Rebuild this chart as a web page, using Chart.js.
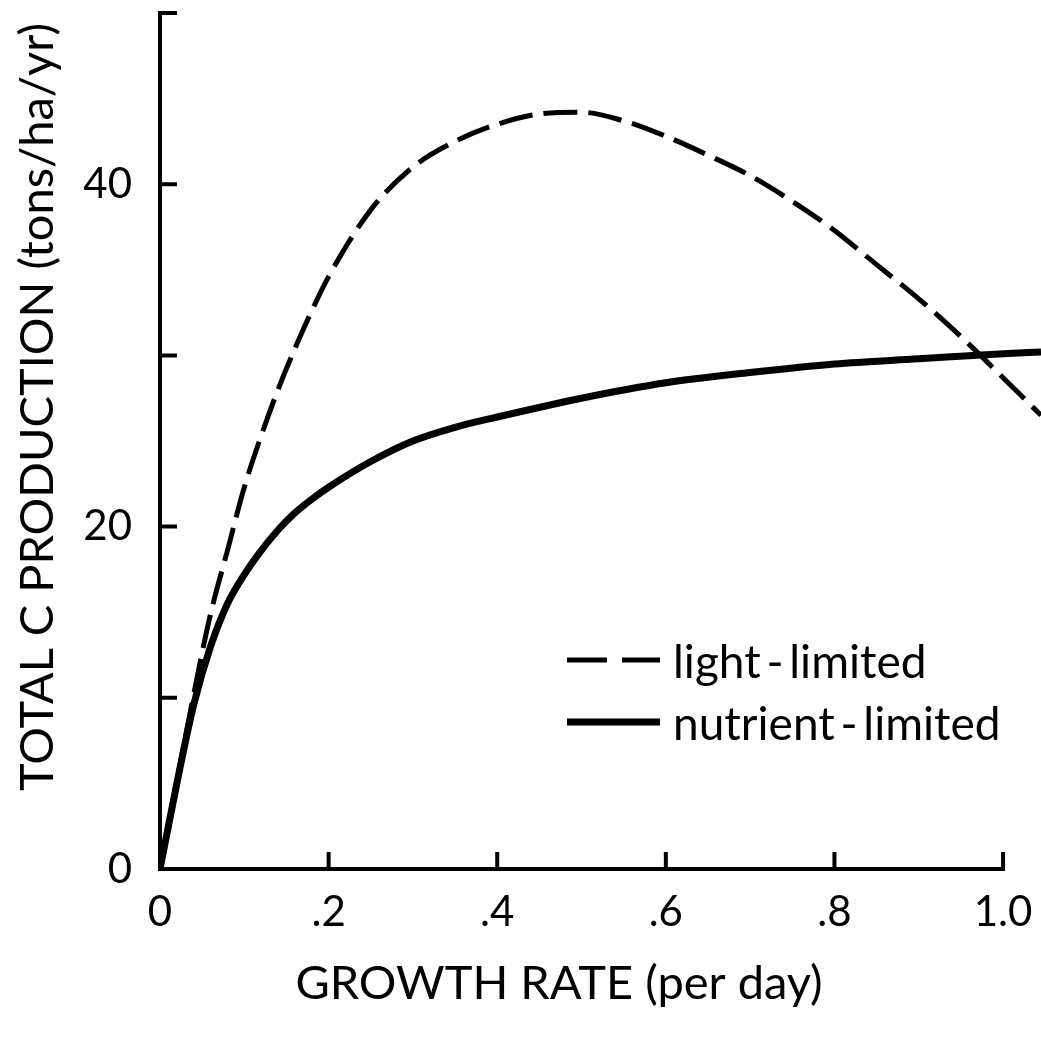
<!DOCTYPE html>
<html>
<head>
<meta charset="utf-8">
<script src="https://cdn.jsdelivr.net/npm/chart.js@4.4.0/dist/chart.umd.min.js"></script>
<style>
    html, body { margin: 0; padding: 0; background: #fff; }
    #wrap { width: 1041px; height: 1044px; }
</style>
</head>
<body>
<div id="wrap"><canvas id="chart"></canvas></div>
<script>
// ============================================================================
// TOTAL C PRODUCTION vs GROWTH RATE (light- and nutrient-limited)
// ============================================================================

// growth rate (per day) -> total C production (tons/ha/yr)
const lightRate = [0, 0.02, 0.04, 0.06, 0.08, 0.10, 0.12, 0.14, 0.16, 0.18, 0.20, 0.25, 0.30, 0.35, 0.40, 0.45, 0.50, 0.55, 0.60, 0.65, 0.70, 0.75, 0.80, 0.85, 0.90, 0.95, 1.00, 1.045];
const lightProd = [0, 5.1, 10.2, 14.9, 18.6, 22.3, 25.3, 28.0, 30.4, 32.6, 34.6, 38.5, 41.0, 42.5, 43.5, 44.1, 44.2, 43.7, 42.8, 41.7, 40.5, 39.0, 37.3, 35.3, 33.3, 31.1, 28.7, 26.5];

const nutrientRate = [0, 0.02, 0.04, 0.06, 0.08, 0.10, 0.12, 0.14, 0.16, 0.18, 0.20, 0.25, 0.30, 0.35, 0.40, 0.50, 0.60, 0.70, 0.80, 0.90, 1.00, 1.045];
const nutrientProd = [0, 5.0, 9.6, 13.0, 15.5, 17.2, 18.6, 19.8, 20.8, 21.6, 22.3, 23.8, 25.0, 25.8, 26.4, 27.5, 28.4, 29.0, 29.5, 29.8, 30.1, 30.2];

const xTicks = [0, 0.2, 0.4, 0.6, 0.8, 1.0];
const yTicks = [0, 10, 20, 30, 40, 50];
const yLabelled = [0, 20, 40];

const seriesNames = ['light\u2009-\u2009limited', 'nutrient\u2009-\u2009limited'];
const xTitle = 'GROWTH RATE (per day)';
const yTitle = 'TOTAL C PRODUCTION (tons/ha/yr)';

const FONT = 'Lato, "Noto Sans", sans-serif';
const INK = '#000';

function formatRate(v) {
    if (v === 0) return '0';
    if (Math.abs(v - 1) < 1e-9) return '1.0';
    return v.toFixed(1).replace(/^0/, '');
}

// axis lines, inward tick marks, axis titles and the in-plot legend
const figureDecor = {
    id: 'figureDecor',
    afterDraw(chart) {
        const { ctx, scales: { x, y } } = chart;
        const x0 = x.getPixelForValue(0);
        const y0 = y.getPixelForValue(0);
        const tick = 17;

        ctx.save();
        ctx.strokeStyle = INK;
        ctx.lineWidth = 4;
        ctx.lineCap = 'square';

        // axes: y from 0 to 50, x from 0 to 1.0
        ctx.beginPath();
        ctx.moveTo(x0, y.getPixelForValue(yTicks[yTicks.length - 1]));
        ctx.lineTo(x0, y0);
        ctx.lineTo(x.getPixelForValue(xTicks[xTicks.length - 1]), y0);
        ctx.stroke();

        ctx.lineCap = 'butt';
        ctx.beginPath();
        yTicks.slice(1).forEach(v => {
            const py = y.getPixelForValue(v);
            ctx.moveTo(x0, py);
            ctx.lineTo(x0 + tick, py);
        });
        xTicks.slice(1).forEach(v => {
            const px = x.getPixelForValue(v);
            ctx.moveTo(px, y0);
            ctx.lineTo(px, y0 - tick);
        });
        ctx.stroke();

        // axis titles
        ctx.fillStyle = INK;
        ctx.textAlign = 'center';
        ctx.textBaseline = 'middle';
        ctx.font = `47px ${FONT}`;
        ctx.fillText(xTitle, 559, 984);

        ctx.save();
        ctx.translate(38, 407);
        ctx.rotate(-Math.PI / 2);
        ctx.fillText(yTitle, 0, 0);
        ctx.restore();

        // legend
        const rows = [660, 722];
        ctx.font = `46px ${FONT}`;
        ctx.textAlign = 'left';
        ctx.textBaseline = 'alphabetic';
        chart.data.datasets.forEach((ds, i) => {
            ctx.beginPath();
            ctx.lineWidth = ds.borderWidth;
            ctx.setLineDash(ds.borderDash.length ? [40, 15] : []);
            ctx.moveTo(567, rows[i]);
            ctx.lineTo(660, rows[i]);
            ctx.stroke();
            ctx.setLineDash([]);
            ctx.fillText(ds.label, 673, rows[i] + 18);
        });
        ctx.restore();
    }
};

const chart = new Chart(document.getElementById('chart'), {
    type: 'line',
    data: {
        datasets: [
            {
                label: seriesNames[0],
                data: lightRate.map((r, i) => ({ x: r, y: lightProd[i] })),
                borderColor: INK,
                borderWidth: 5,
                borderDash: [34, 11],
                pointRadius: 0,
                fill: false,
                cubicInterpolationMode: 'monotone'
            },
            {
                label: seriesNames[1],
                data: nutrientRate.map((r, i) => ({ x: r, y: nutrientProd[i] })),
                borderColor: INK,
                borderWidth: 7,
                borderDash: [],
                pointRadius: 0,
                fill: false,
                cubicInterpolationMode: 'monotone'
            }
        ]
    },
    options: {
        responsive: true,
        maintainAspectRatio: false,
        animation: false,
        layout: { padding: { top: 13, right: 0, left: 0, bottom: 0 } },
        plugins: {
            legend: { display: false },
            tooltip: { enabled: false }
        },
        scales: {
            x: {
                type: 'linear',
                min: 0,
                max: 1.045,
                afterBuildTicks: s => { s.ticks = xTicks.map(v => ({ value: v })); },
                afterFit: s => { s.height = 175; s.paddingLeft = 0; s.paddingRight = 0; },
                grid: { display: false },
                border: { display: false },
                ticks: {
                    color: INK,
                    padding: 10,
                    maxRotation: 0,
                    autoSkip: false,
                    font: { family: FONT, size: 42 },
                    callback: v => formatRate(v)
                }
            },
            y: {
                type: 'linear',
                min: 0,
                max: 50,
                afterBuildTicks: s => { s.ticks = yLabelled.map(v => ({ value: v })); },
                afterFit: s => { s.width = 160; s.paddingTop = 0; s.paddingBottom = 0; },
                grid: { display: false },
                border: { display: false },
                ticks: {
                    color: INK,
                    padding: 20,
                    autoSkip: false,
                    font: { family: FONT, size: 42 },
                    callback: v => String(v)
                }
            }
        }
    },
    plugins: [figureDecor]
});
</script>
</body>
</html>
